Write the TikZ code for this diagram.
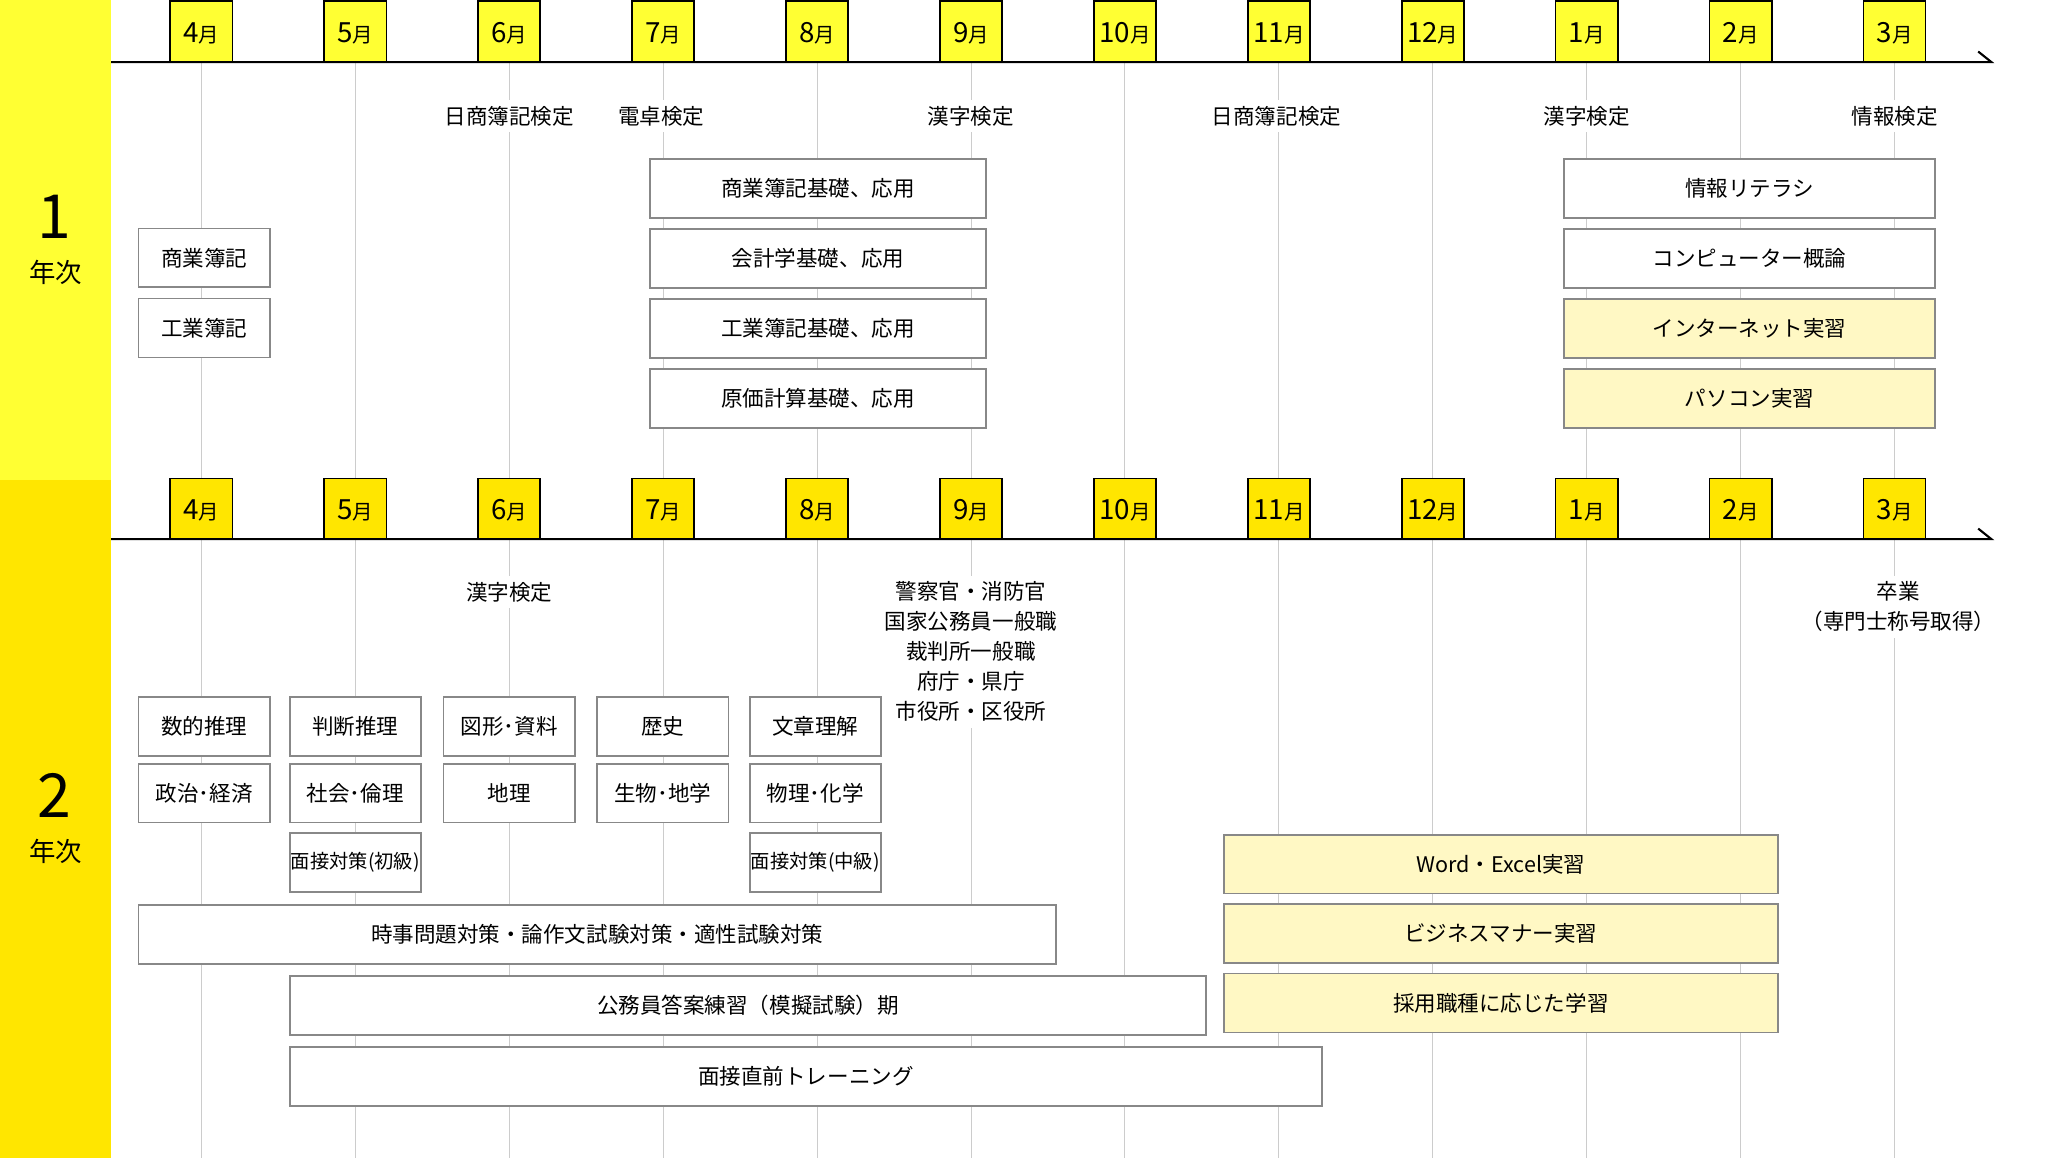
\documentclass[tikz,border=0pt]{standalone}
\usepackage{fontspec}
\setmainfont{Noto Sans CJK JP}
\usepackage{tikz}
\usetikzlibrary{positioning,backgrounds}
\definecolor{firstyear}{RGB}{255,255,51}
\definecolor{secondyear}{RGB}{255,230,0}
\definecolor{practicecolor}{RGB}{255,248,196}
\definecolor{framegray}{RGB}{136,136,136}
\definecolor{gridgray}{RGB}{204,204,204}
\newcommand{\tsuki}[1]{{\fontsize{21}{21}\selectfont #1}{\fontsize{15.5}{15.5}\selectfont 月}}

\begin{document}
\begin{tikzpicture}[
    x=1pt, y=-1pt,
    node distance=8.5pt,
    monthbox/.style={rectangle, draw, line width=1.3pt, minimum width=47pt, minimum height=46pt, inner sep=0pt, outer sep=0pt, text height=17pt, text depth=0pt},
    firstmonth/.style={monthbox, fill=firstyear},
    secondmonth/.style={monthbox, fill=secondyear},
    course/.style={rectangle, draw=framegray, line width=1.3pt, fill=white, minimum width=99.4pt, minimum height=44.5pt, inner sep=0pt, outer sep=0pt, font=\fontsize{16.3}{20}\selectfont},
    practice/.style={course, fill=practicecolor},
    interview/.style={course, font=\fontsize{14.6}{18}\selectfont},
    exam/.style={fill=white, inner xsep=2pt, inner ysep=4.5pt, align=center, font=\fontsize{16.3}{22.7}\selectfont},
    yearnum/.style={font=\fontsize{46}{46}\selectfont},
    yearword/.style={font=\fontsize{20}{20}\selectfont},
    monthline/.style={draw=gridgray, line width=0.7pt},
    timeline/.style={line width=1.6pt}
]
\useasboundingbox (0,0) rectangle (1568,876);
\coordinate (floor) at (0,876);
\coordinate (ta) at (84,47);
\coordinate (tb) at (1507,47);
\coordinate (tc) at (84,408);
\coordinate (td) at (1507,408);

% year labels
\node[yearnum] (one) at (41.5,164) {1};
\node[yearword] (nenji1) at (42,206) {年次};
\node[yearnum] (two) at (41.5,602) {2};
\node[yearword] (nenji2) at (42,644) {年次};

% months, 1st year
\node[firstmonth] (a4) at (152.4,23.9) {\tsuki{4}};
\node[firstmonth] (a5) at (268.9,23.9) {\tsuki{5}};
\node[firstmonth] (a6) at (385.4,23.9) {\tsuki{6}};
\node[firstmonth] (a7) at (501.8,23.9) {\tsuki{7}};
\node[firstmonth] (a8) at (618.3,23.9) {\tsuki{8}};
\node[firstmonth] (a9) at (734.8,23.9) {\tsuki{9}};
\node[firstmonth] (a10) at (851.3,23.9) {\tsuki{10}};
\node[firstmonth] (a11) at (967.8,23.9) {\tsuki{11}};
\node[firstmonth] (a12) at (1084.2,23.9) {\tsuki{12}};
\node[firstmonth] (a1) at (1200.7,23.9) {\tsuki{1}};
\node[firstmonth] (a2) at (1317.2,23.9) {\tsuki{2}};
\node[firstmonth] (a3) at (1433.7,23.9) {\tsuki{3}};

% months, 2nd year
\node[secondmonth] (b4) at (152.4,385) {\tsuki{4}};
\node[secondmonth] (b5) at (268.9,385) {\tsuki{5}};
\node[secondmonth] (b6) at (385.4,385) {\tsuki{6}};
\node[secondmonth] (b7) at (501.8,385) {\tsuki{7}};
\node[secondmonth] (b8) at (618.3,385) {\tsuki{8}};
\node[secondmonth] (b9) at (734.8,385) {\tsuki{9}};
\node[secondmonth] (b10) at (851.3,385) {\tsuki{10}};
\node[secondmonth] (b11) at (967.8,385) {\tsuki{11}};
\node[secondmonth] (b12) at (1084.2,385) {\tsuki{12}};
\node[secondmonth] (b1) at (1200.7,385) {\tsuki{1}};
\node[secondmonth] (b2) at (1317.2,385) {\tsuki{2}};
\node[secondmonth] (b3) at (1433.7,385) {\tsuki{3}};

% 1st year exams and courses
\node[exam] (nissho1) at (385.4,88) {日商簿記検定};
\node[exam] (dentaku) at (500.5,88) {電卓検定};
\node[exam] (kanji1) at (734.8,88) {漢字検定};
\node[exam] (nissho2) at (966,88) {日商簿記検定};
\node[exam] (kanji2) at (1200.7,88) {漢字検定};
\node[exam] (joho) at (1433.7,88) {情報検定};

\node[course] (shogyo) at (154.6,195.2) {商業簿記};
\node[course, below=of shogyo] (kogyo) {工業簿記};

\node[course, minimum width=254.3pt] (shogyokiso) at (619,142.5) {商業簿記基礎、応用};
\node[course, minimum width=254.3pt, below=of shogyokiso] (kaikei) {会計学基礎、応用};
\node[course, minimum width=254.3pt, below=of kaikei] (kogyokiso) {工業簿記基礎、応用};
\node[course, minimum width=254.3pt, below=of kogyokiso] (genka) {原価計算基礎、応用};

\node[course, minimum width=280.7pt] (literacy) at (1324,142.5) {情報リテラシ};
\node[course, minimum width=280.7pt, below=of literacy] (computer) {コンピューター概論};
\node[practice, minimum width=280.7pt, below=of computer] (internet) {インターネット実習};
\node[practice, minimum width=280.7pt, below=of internet] (pasokon) {パソコン実習};

% 2nd year exams and courses
\node[exam] (kanji3) at (385.4,448) {漢字検定};
\node[exam] (koumuin) at (734.8,493.2) {警察官・消防官\\国家公務員一般職\\裁判所一般職\\府庁・県庁\\市役所・区役所};
\node[exam] (sotsugyo) at (1436.6,459) {卒業\\（専門士称号取得）};

\node[course] (suteki) at (154.6,549.7) {数的推理};
\node[course] (handan) at (268.9,549.7) {判断推理};
\node[course] (zukei) at (385.4,549.7) {図形･資料};
\node[course] (rekishi) at (501.6,549.7) {歴史};
\node[course] (bunsho) at (617,549.7) {文章理解};
\node[course, below=6pt of suteki] (seiji) {政治･経済};
\node[course, below=6pt of handan] (shakai) {社会･倫理};
\node[course, below=6pt of zukei] (chiri) {地理};
\node[course, below=6pt of rekishi] (seibutsu) {生物･地学};
\node[course, below=6pt of bunsho] (butsuri) {物理･化学};
\node[interview, below=8pt of shakai] (shokyu) {面接対策(初級)};
\node[interview, below=8pt of butsuri] (chukyu) {面接対策(中級)};

\node[course, minimum width=694.5pt] (jiji) at (452,707.3) {時事問題対策・論作文試験対策・適性試験対策};
\node[course, minimum width=693.5pt] (toan) at (566,760.8) {公務員答案練習（模擬試験）期};
\node[course, minimum width=781.3pt] (chokuzen) at (609.9,814.5) {面接直前トレーニング};

\node[practice, minimum width=419.6pt] (office) at (1135.8,654) {Word・Excel実習};
\node[practice, minimum width=419.6pt, below=8pt of office] (manner) {ビジネスマナー実習};
\node[practice, minimum width=419.6pt, below=8pt of manner] (saiyo) {採用職種に応じた学習};

\begin{scope}[on background layer]
\fill[white] (0,0) rectangle (1568,876);
\fill[firstyear] (0,0) rectangle (84,363);
\fill[secondyear] (0,363) rectangle (84,876);

\draw[monthline] (a4) -- (b4) (b4) -- (b4 |- floor);
\draw[monthline] (a5) -- (b5) (b5) -- (b5 |- floor);
\draw[monthline] (a6) -- (b6) (b6) -- (b6 |- floor);
\draw[monthline] (a7) -- (b7) (b7) -- (b7 |- floor);
\draw[monthline] (a8) -- (b8) (b8) -- (b8 |- floor);
\draw[monthline] (a9) -- (b9) (b9) -- (b9 |- floor);
\draw[monthline] (a10) -- (b10) (b10) -- (b10 |- floor);
\draw[monthline] (a11) -- (b11) (b11) -- (b11 |- floor);
\draw[monthline] (a12) -- (b12) (b12) -- (b12 |- floor);
\draw[monthline] (a1) -- (b1) (b1) -- (b1 |- floor);
\draw[monthline] (a2) -- (b2) (b2) -- (b2 |- floor);
\draw[monthline] (a3) -- (b3) (b3) -- (b3 |- floor);

\draw[timeline] (ta) -- (tb) -- ++(-10,-8);
\draw[timeline] (tc) -- (td) -- ++(-10,-8);
\end{scope}
\end{tikzpicture}
\end{document}
